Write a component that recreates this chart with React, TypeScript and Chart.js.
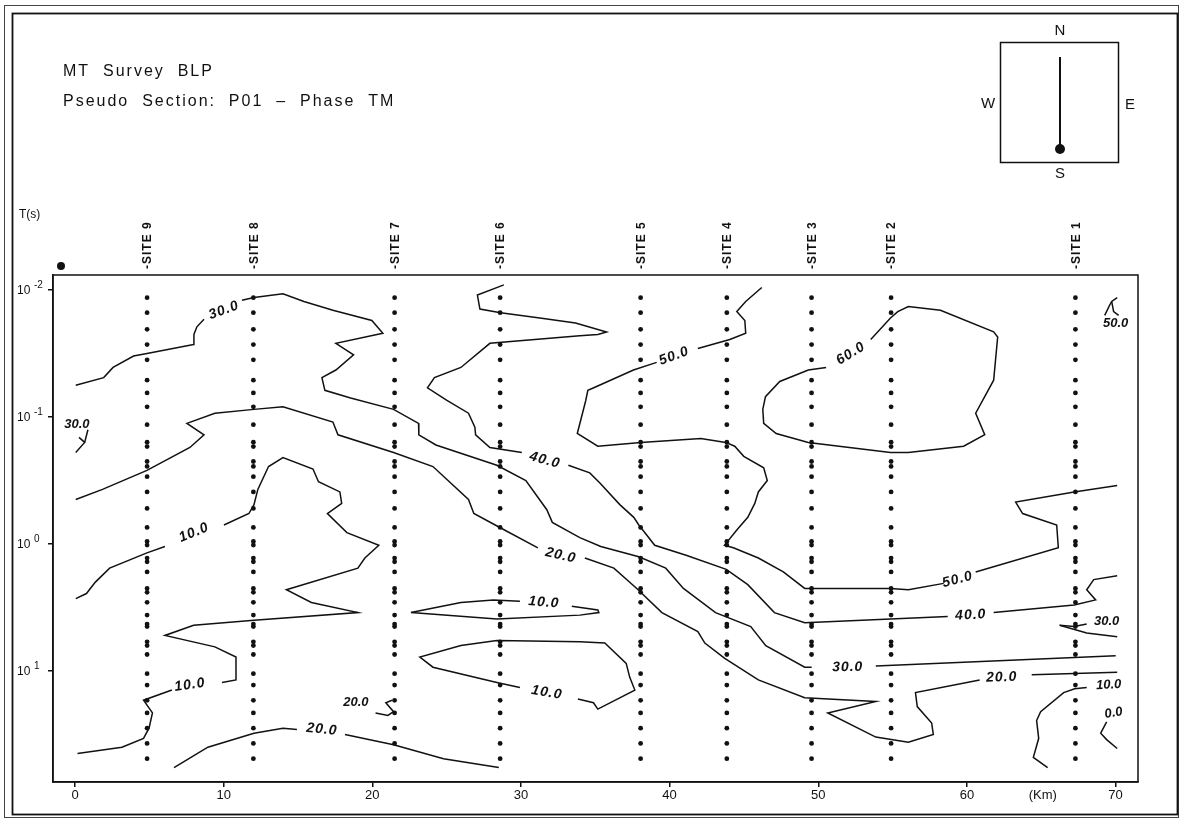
import React, { useEffect, useRef } from "react";
import { Chart, registerables } from "chart.js";

Chart.register(...registerables);

// ---- Sites along profile (km) ----
const siteNames = ["SITE 9", "SITE 8", "SITE 7", "SITE 6", "SITE 5", "SITE 4", "SITE 3", "SITE 2", "SITE 1"];
const siteKm = [4.85, 12.0, 21.5, 28.6, 38.05, 43.85, 49.55, 54.9, 67.3];

// ---- Measured periods (s) at each site ----
const periods = [
  0.0115, 0.0151, 0.0204, 0.0269, 0.0355, 0.0513, 0.0646, 0.0832, 0.115, 0.158, 0.171, 0.224, 0.245,
  0.295, 0.389, 0.525, 0.741, 0.955, 1.02, 1.29, 1.38, 1.66, 2.24, 2.4, 2.88, 3.63, 4.27, 4.47, 5.89,
  6.31, 7.41, 10.5, 12.9, 17.0, 21.4, 28.2, 37.2, 49.0,
];

// ---- Axis ticks ----
const xTicks = [0, 10, 20, 30, 40, 50, 60, 70];
const yTicks = [0.01, 0.1, 1, 10];
const yTickExp = ["-2", "-1", "0", "1"];

// ---- Phase contours: [distance km, log10 period] ----
// 60 degrees
const c60 = [[53.53, -1.61], [54.86, -1.78], [55.35, -1.83], [56.06, -1.87], [58.22, -1.84], [61.8, -1.67], [62.07, -1.63], [61.8, -1.29], [60.59, -1.03], [61.2, -0.86], [59.78, -0.77], [56.06, -0.72], [54.86, -0.72], [49.33, -0.8], [47.17, -0.87], [46.33, -0.95], [46.27, -1.06], [46.45, -1.16], [47.41, -1.28], [49.33, -1.37], [50.53, -1.39]];
// 50 degrees
const c50a = [[46.2, -2.02], [45.12, -1.91], [44.52, -1.83], [45.06, -1.76], [45.12, -1.66], [44.05, -1.61], [41.9, -1.54]];
const c50b = [[39.13, -1.43], [37.57, -1.37], [34.9, -1.23], [34.5, -1.21], [34.36, -1.13], [33.79, -0.87], [35.17, -0.77], [38.06, -0.8], [42.1, -0.83], [43.78, -0.8], [44.38, -0.77], [44.99, -0.69], [46.33, -0.6], [46.57, -0.5], [45.97, -0.41], [45.73, -0.32], [45.26, -0.21], [44.52, -0.11], [43.69, 0.01], [44.29, 0.03], [45.97, 0.11], [47.65, 0.22], [49.09, 0.35], [54.86, 0.35], [56.06, 0.36], [58.44, 0.31]];
const c50c = [[60.59, 0.22], [66.15, 0.03], [66.04, -0.15], [63.75, -0.24], [63.28, -0.33], [67.22, -0.41], [70.11, -0.46]];
const c50d = [[69.27, -1.8], [69.6, -1.88], [69.74, -1.91], [70.11, -1.94]];
const c50e = [[69.74, -1.91], [69.87, -1.83], [70.21, -1.8]];
// 40 degrees
const c40a = [[28.85, -2.04], [27.07, -1.96], [27.24, -1.85], [28.63, -1.82], [31.27, -1.78], [33.67, -1.74], [35.76, -1.67], [35.17, -1.65], [33.96, -1.64], [27.91, -1.58], [25.96, -1.39], [24.18, -1.31], [23.71, -1.23], [25.02, -1.13], [26.47, -1.03], [26.9, -0.92], [26.95, -0.86], [27.91, -0.76], [30.06, -0.72]];
const c40b = [[33.19, -0.62], [34.63, -0.56], [35.31, -0.48], [36.65, -0.31], [37.59, -0.21], [37.93, -0.15], [39.0, 0.01], [41.16, 0.09], [43.81, 0.2], [45.26, 0.32], [47.05, 0.54], [49.09, 0.62], [58.71, 0.57]];
const c40c = [[61.8, 0.54], [67.22, 0.48], [68.66, 0.44], [68.06, 0.36], [68.53, 0.28], [70.11, 0.25]];
// 30 degrees
const c30a = [[0.05, -1.25], [1.93, -1.31], [2.56, -1.39], [3.94, -1.48], [4.84, -1.5], [7.98, -1.57], [8.0, -1.65], [8.2, -1.71], [8.68, -1.77]];
const c30b = [[11.23, -1.92], [12.04, -1.94], [13.99, -1.97], [15.4, -1.91], [17.35, -1.84], [19.97, -1.76], [20.71, -1.66], [17.55, -1.58], [18.74, -1.49], [17.55, -1.37], [16.61, -1.31], [16.81, -1.21], [18.54, -1.15], [21.43, -1.06], [23.11, -0.95], [23.13, -0.86], [24.28, -0.78], [28.38, -0.62], [30.33, -0.5], [31.74, -0.27], [32.11, -0.17], [33.96, -0.05], [35.37, 0.02], [37.93, 0.1], [39.74, 0.19], [40.93, 0.35], [43.09, 0.54], [45.46, 0.65], [46.47, 0.8], [49.09, 0.97], [49.56, 0.97]];
const c30c = [[53.87, 0.96], [70.01, 0.88]];
const c30d = [[0.05, -0.72], [0.65, -0.8], [0.27, -0.84]];
const c30e = [[0.65, -0.8], [0.87, -0.9]];
const c30f = [[66.24, 0.64], [67.22, 0.65], [68.06, 0.63]];
const c30g = [[66.24, 0.64], [68.06, 0.7], [70.11, 0.73]];
// 20 degrees
const c20a = [[0.05, -0.35], [1.85, -0.43], [4.84, -0.58], [7.73, -0.76], [8.68, -0.86], [7.53, -0.95], [9.41, -1.03], [12.04, -1.06], [13.99, -1.08], [17.35, -0.96], [17.69, -0.86], [21.43, -0.72], [24.08, -0.61], [26.47, -0.35], [26.83, -0.24], [28.58, -0.13], [31.14, 0.03]];
const c20b = [[34.3, 0.11], [36.25, 0.19], [37.79, 0.35], [39.48, 0.54], [41.9, 0.69], [42.37, 0.78], [43.71, 0.9], [45.97, 1.07], [49.09, 1.21], [53.87, 1.24], [50.64, 1.33], [53.87, 1.52], [56.06, 1.56], [57.74, 1.5], [57.63, 1.41], [56.66, 1.28], [56.54, 1.17], [60.86, 1.07]];
const c20c = [[64.36, 1.03], [70.11, 1.01]];
const c20d = [[6.66, 1.76], [8.94, 1.6], [12.04, 1.49], [13.99, 1.45], [14.93, 1.46]];
const c20e = [[18.16, 1.5], [21.43, 1.58], [24.79, 1.69], [28.51, 1.76]];
const c20f = [[20.22, 1.33], [21.05, 1.35], [21.43, 1.32], [20.91, 1.25], [21.32, 1.23]];
// 10 degrees
const c10a = [[0.05, 0.43], [0.77, 0.39], [1.37, 0.3], [2.33, 0.19], [4.84, 0.07], [6.05, 0.02]];
const c10b = [[10.02, -0.15], [11.7, -0.24], [12.04, -0.31], [12.3, -0.43], [13.02, -0.61], [13.99, -0.68], [16.01, -0.59], [16.38, -0.49], [17.82, -0.41], [17.94, -0.32], [16.98, -0.24], [18.29, -0.09], [20.44, 0.01], [19.5, 0.11], [19.03, 0.19], [14.22, 0.36], [15.9, 0.46], [19.03, 0.54], [12.04, 0.6], [7.98, 0.64], [6.05, 0.72], [9.41, 0.81], [10.83, 0.89], [10.83, 1.07], [9.89, 1.09]];
const c10c = [[6.52, 1.15], [4.61, 1.23], [5.21, 1.33], [4.98, 1.45], [4.61, 1.53], [3.16, 1.6], [0.17, 1.65]];
const c10d = [[22.6, 0.54], [25.96, 0.46], [28.15, 0.44], [29.93, 0.45]];
const c10e = [[33.42, 0.49], [35.17, 0.52], [35.24, 0.54], [33.96, 0.56], [28.38, 0.59], [22.6, 0.54]];
const c10f = [[33.83, 1.22], [34.88, 1.25], [35.17, 1.3], [37.66, 1.15], [37.32, 1.05], [37.08, 0.94], [35.64, 0.78], [33.96, 0.77], [28.38, 0.76], [25.96, 0.8], [23.2, 0.89], [24.08, 0.97], [28.38, 1.09], [29.93, 1.13]];
const c10g = [[68.06, 1.13], [67.25, 1.14], [66.51, 1.17], [64.96, 1.32], [64.69, 1.39], [64.83, 1.53], [64.47, 1.68], [65.43, 1.76]];
// 0 degrees
const c00 = [[69.4, 1.4], [69.0, 1.49], [69.4, 1.54], [70.11, 1.61]];

const contourSegments = [
  c60, c50a, c50b, c50c, c50d, c50e, c40a, c40b, c40c, c30a, c30b, c30c, c30d, c30e, c30f, c30g,
  c20a, c20b, c20c, c20d, c20e, c20f, c10a, c10b, c10c, c10d, c10e, c10f, c10g, c00,
];

// ---- Contour labels ----
const labelText = ["30.0", "30.0", "40.0", "50.0", "60.0", "50.0", "10.0", "20.0", "10.0", "10.0", "20.0", "20.0", "10.0", "50.0", "40.0", "30.0", "20.0", "30.0", "10.0", "0.0"];
const labelKm = [10.02, 0.13, 31.61, 40.3, 52.19, 70.01, 8.0, 32.68, 31.54, 7.73, 18.9, 16.61, 31.74, 59.38, 60.26, 51.98, 62.34, 69.4, 69.54, 69.87];
const labelLogT = [-1.84, -0.94, -0.66, -1.48, -1.5, -1.74, -0.09, 0.09, 0.46, 1.11, 1.25, 1.46, 1.17, 0.28, 0.56, 0.97, 1.05, 0.61, 1.11, 1.33];
// label styling (rotation in degrees, small font flag)
const labelAngle = [-20, 0, 15, -20, -32, 0, -22, 13, 5, -8, 0, 6, 10, -15, -3, -1, -2, 0, -3, -10];
const labelSmall = [false, true, false, false, false, true, false, false, false, false, true, false, false, false, false, false, false, true, true, true];

const INK = "#111";
const FONT = "'Liberation Sans', Arial, sans-serif";

const decorPlugin = {
  id: "decor",
  afterDraw(chart: any) {
    const ctx: CanvasRenderingContext2D = chart.ctx;
    const area = chart.chartArea;
    const xs = chart.scales.x;
    const ys = chart.scales.y;
    ctx.save();
    ctx.fillStyle = INK;
    ctx.strokeStyle = INK;

    // page frames
    ctx.lineWidth = 1;
    ctx.strokeStyle = "#444";
    ctx.strokeRect(4.5, 5.5, 1174, 812);
    ctx.lineWidth = 1.8;
    ctx.strokeStyle = INK;
    ctx.strokeRect(12.5, 13.5, 1165, 801);

    // plot frame
    ctx.lineWidth = 1.5;
    ctx.strokeRect(area.left, area.top, area.right - area.left, area.bottom - area.top);

    // titles
    (ctx as any).letterSpacing = "2px";
    ctx.font = `16px ${FONT}`;
    ctx.textAlign = "left";
    ctx.textBaseline = "middle";
    ctx.fillText("MT  Survey  BLP", 63, 72);
    ctx.fillText("Pseudo  Section:  P01  –  Phase  TM", 63, 102);
    (ctx as any).letterSpacing = "0px";

    // compass
    ctx.lineWidth = 1.5;
    ctx.strokeRect(1000.5, 42.5, 118, 120);
    ctx.font = `15px ${FONT}`;
    ctx.textAlign = "center";
    ctx.fillText("N", 1060, 31);
    ctx.fillText("S", 1060, 174);
    ctx.fillText("W", 988, 104);
    ctx.fillText("E", 1130, 105);
    ctx.lineWidth = 2;
    ctx.beginPath();
    ctx.moveTo(1060, 57);
    ctx.lineTo(1060, 148);
    ctx.stroke();
    ctx.beginPath();
    ctx.arc(1060, 149, 5, 0, Math.PI * 2);
    ctx.fill();

    // y axis title and tick labels
    ctx.textAlign = "left";
    ctx.font = `12px ${FONT}`;
    ctx.fillText("T(s)", 19, 215);
    yTicks.forEach((v, i) => {
      const y = ys.getPixelForValue(v);
      ctx.font = `12px ${FONT}`;
      ctx.fillText("10", 17, y + 1);
      ctx.font = `10px ${FONT}`;
      ctx.fillText(yTickExp[i], 34, y - 5);
    });

    // x axis unit
    ctx.font = `13px ${FONT}`;
    ctx.textAlign = "center";
    ctx.fillText("(Km)", xs.getPixelForValue(65.1), area.bottom + 13);

    // marker dot top-left
    ctx.beginPath();
    ctx.arc(area.left + 8, area.top - 9, 4, 0, Math.PI * 2);
    ctx.fill();

    // site labels
    ctx.font = `bold 12px ${FONT}`;
    (ctx as any).letterSpacing = "1px";
    siteNames.forEach((name, i) => {
      const x = xs.getPixelForValue(siteKm[i]);
      ctx.save();
      ctx.translate(x + 1, area.top - 6);
      ctx.rotate(-Math.PI / 2);
      ctx.textAlign = "left";
      ctx.textBaseline = "middle";
      ctx.fillText("-" + name, 0, 0);
      ctx.restore();
    });

    // contour labels
    labelText.forEach((t, i) => {
      const x = xs.getPixelForValue(labelKm[i]);
      const y = ys.getPixelForValue(Math.pow(10, labelLogT[i]));
      ctx.save();
      ctx.translate(x, y);
      ctx.rotate((labelAngle[i] * Math.PI) / 180);
      ctx.font = `italic bold ${labelSmall[i] ? 13 : 14}px ${FONT}`;
      (ctx as any).letterSpacing = labelSmall[i] ? "0px" : "1px";
      ctx.textAlign = "center";
      ctx.textBaseline = "middle";
      ctx.fillText(t, 0, 0);
      ctx.restore();
    });
    (ctx as any).letterSpacing = "0px";
    ctx.restore();
  },
};

export default function App() {
  const ref = useRef<HTMLCanvasElement | null>(null);

  useEffect(() => {
    const canvas = ref.current;
    if (!canvas) return;

    const datasets: any[] = [];
    contourSegments.forEach((seg) => {
      datasets.push({
        data: seg.map(([km, lt]) => ({ x: km, y: Math.pow(10, lt) })),
        showLine: true,
        borderColor: INK,
        borderWidth: 1.5,
        pointRadius: 0,
        fill: false,
        tension: 0,
      });
    });
    siteKm.forEach((km) => {
      datasets.push({
        data: periods.map((p) => ({ x: km, y: p })),
        showLine: false,
        pointRadius: 2.4,
        pointBackgroundColor: INK,
        pointBorderWidth: 0,
      });
    });

    const tickGrid = {
      display: true,
      drawOnChartArea: false,
      drawTicks: true,
      tickLength: 5,
      color: INK,
      lineWidth: 1.5,
    };

    const chart = new Chart(canvas, {
      type: "scatter",
      data: { datasets },
      options: {
        animation: false,
        responsive: false,
        devicePixelRatio: 1,
        layout: { padding: { left: 33, right: 43, top: 275, bottom: 18 } },
        plugins: { legend: { display: false }, tooltip: { enabled: false } },
        scales: {
          x: {
            type: "linear",
            position: "bottom",
            min: -1.48,
            max: 71.51,
            afterBuildTicks: (s: any) => {
              s.ticks = xTicks.map((v) => ({ value: v }));
            },
            afterFit: (s: any) => {
              s.height = 20;
            },
            grid: tickGrid,
            border: { display: true, color: INK, width: 1.5 },
            ticks: {
              color: INK,
              font: { family: FONT, size: 13 },
              padding: 1,
              maxRotation: 0,
              autoSkip: false,
              callback: (v: any) => String(v),
            },
          },
          y: {
            type: "logarithmic",
            position: "left",
            reverse: true,
            min: 0.00762,
            max: 74.8,
            afterBuildTicks: (s: any) => {
              s.ticks = yTicks.map((v) => ({ value: v }));
            },
            afterFit: (s: any) => {
              s.width = 20;
            },
            grid: tickGrid,
            border: { display: true, color: INK, width: 1.5 },
            ticks: { display: false },
          },
        },
      } as any,
      plugins: [decorPlugin],
    });

    return () => chart.destroy();
  }, []);

  return (
    <div style={{ position: "absolute", left: 0, top: 0, width: 1181, height: 820, background: "#fff" }}>
      <canvas ref={ref} width={1181} height={820} style={{ width: "1181px", height: "820px", display: "block" }} />
    </div>
  );
}
